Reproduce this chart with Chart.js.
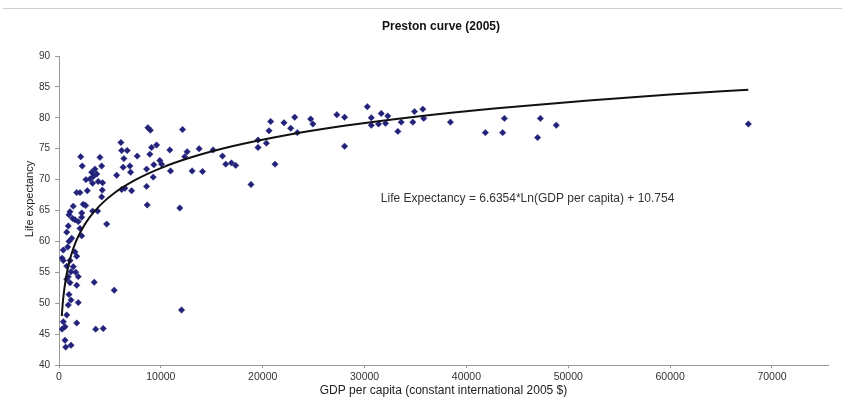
<!DOCTYPE html>
<html>
<head>
<meta charset="utf-8">
<title>Preston curve (2005)</title>
<script src="https://cdn.jsdelivr.net/npm/chart.js@4/dist/chart.umd.min.js"></script>
<style>
  html, body { margin: 0; padding: 0; background: #fff; }
  #wrap { width: 842px; height: 398px; position: relative; }
</style>
</head>
<body>
<div id="wrap"><canvas id="myChart" width="842" height="398"></canvas></div>
<script>
// GDP per capita (constant international 2005 $)
const gdp = [
  6080, 6150, 6700, 6370, 7680, 8920, 9090, 9580, 10880,
  2130, 4020, 2280, 4190, 3530, 3210, 3700, 3360, 3040, 2650,
  3850, 3300, 4280, 4250, 5660, 6300, 6960, 7030, 6470, 7130,
  6150, 8600, 9310, 9250, 9900, 10070, 10950, 8600, 8660, 11860,
  1740, 2060, 2780, 4190, 1400, 2380, 2620, 3300, 3790, 1080,
  980, 2230, 2230, 1570, 1890, 1340, 910, 4680, 2060, 1250, 760, 2230,
  12130, 12580, 12350, 13760, 15130, 13070, 14090, 16050, 16370, 16930,
  17350, 18850, 19540, 19540, 20360, 21210, 20620, 20780, 22090, 22750,
  23140, 23400, 24710, 24930, 27280, 28040, 28040, 30270, 30660, 30660,
  31370, 31640, 32280, 32060, 33270, 33600, 34740, 34900, 35720, 35810,
  38430, 41860, 43560, 43730, 47260, 46990, 48820, 67680,
  8730, 8970,
  980, 850, 1570, 1740, 300, 420, 1080, 760, 1400, 1180, 1640, 910,
  1890, 760, 1080, 1740, 3460, 5420, 980, 1180, 1890, 760, 420, 1740,
  300, 590, 3600, 4340, 590, 1180, 660, 12030, 910, 420
];
// Life expectancy (years), same order
const lifeExp = [
  76.0, 74.7, 74.7, 73.4, 73.8, 74.1, 75.2, 75.6, 74.8,
  73.7, 73.6, 72.2, 72.2, 71.7, 71.2, 70.9, 70.5, 70.1, 70.0,
  69.7, 69.4, 69.5, 68.3, 70.7, 72.0, 72.2, 71.2, 68.6, 68.2,
  68.4, 71.7, 72.4, 70.4, 73.1, 72.5, 71.4, 68.9, 65.9, 65.4,
  67.9, 67.9, 68.2, 67.2, 65.7, 66.0, 65.8, 64.9, 64.9, 64.8,
  64.3, 64.6, 63.9, 63.5, 63.2, 63.7, 62.5, 62.8, 62.1, 60.5, 61.5, 60.9,
  78.1, 74.5, 73.7, 75.0, 74.8, 71.4, 71.3, 73.8, 72.5, 72.7,
  72.3, 69.2, 76.4, 75.2, 75.9, 72.5, 77.9, 79.4, 79.2, 78.3,
  80.1, 77.6, 79.8, 79.0, 80.5, 80.1, 75.4, 81.8, 80.0, 78.8,
  79.0, 80.7, 80.3, 79.1, 77.8, 79.3, 79.3, 81.0, 81.4, 79.9,
  79.3, 77.6, 77.6, 79.9, 79.9, 76.8, 78.8, 79.0,
  78.4, 78.0,
  60.0, 59.1, 58.3, 57.6, 57.3, 56.9, 56.9, 56.0, 55.9, 55.1, 55.0, 54.3,
  54.3, 53.9, 53.3, 52.9, 53.4, 52.1, 51.4, 50.5, 50.1, 48.1, 47.0, 46.8,
  45.8, 46.2, 45.8, 45.9, 44.0, 43.2, 42.9, 48.9, 49.7, 58.6
];

// logarithmic trendline as printed on the chart
const trendA = 6.6354;
const trendB = 10.754;
const trendX = [270, 350, 450, 600, 800, 1000, 1300, 1700, 2200, 3000, 4000, 5500,
  7500, 10000, 13000, 17000, 22000, 28000, 35000, 43000, 52000, 60000, 67680];

const xTicks = [0, 10000, 20000, 30000, 40000, 50000, 60000, 70000];
const yTicks = [40, 45, 50, 55, 60, 65, 70, 75, 80, 85, 90];
const equationText = 'Life Expectancy = 6.6354*Ln(GDP per capita) + 10.754';

const points = gdp.map((g, i) => ({ x: g, y: lifeExp[i] }));
const trend = trendX.map(g => ({ x: g, y: trendA * Math.log(g) + trendB }));

const FONT = "'Liberation Sans', Arial, sans-serif";

const decor = {
  id: 'decor',
  afterDraw(chart) {
    const ctx = chart.ctx;
    ctx.save();
    // thin rule at the very top of the picture
    ctx.strokeStyle = '#cfcfcf';
    ctx.lineWidth = 1;
    ctx.beginPath();
    ctx.moveTo(3, 8.5);
    ctx.lineTo(842, 8.5);
    ctx.stroke();

    ctx.fillStyle = '#111';
    ctx.font = 'bold 12px ' + FONT;
    ctx.textAlign = 'center';
    ctx.textBaseline = 'middle';
    ctx.fillText('Preston curve (2005)', 441, 27);

    // y axis title
    ctx.save();
    ctx.translate(30, 199);
    ctx.rotate(-Math.PI / 2);
    ctx.font = '11px ' + FONT;
    ctx.fillStyle = '#222';
    ctx.fillText('Life expectancy', 0, 0);
    ctx.restore();

    const xs = chart.scales.x;
    const ys = chart.scales.y;
    ctx.font = '12px ' + FONT;
    ctx.fillStyle = '#333';
    ctx.textAlign = 'left';
    ctx.fillText(equationText, xs.getPixelForValue(31600), ys.getPixelForValue(66.9));
    ctx.restore();
  }
};

const ctx = document.getElementById('myChart').getContext('2d');
const myChart = new Chart(ctx, {
  type: 'scatter',
  data: {
    datasets: [{
      type: 'line',
      label: 'Trend',
      data: trend,
      borderColor: '#111',
      borderWidth: 2,
      pointRadius: 0,
      fill: false,
      cubicInterpolationMode: 'monotone',
      order: 0
    }, {
      label: 'Countries',
      data: points,
      pointStyle: 'rectRot',
      pointRadius: 3.2,
      backgroundColor: '#22227a',
      borderColor: '#22227a',
      borderWidth: 0.5,
      order: 1
    }]
  },
  options: {
    responsive: false,
    animation: false,
    layout: { padding: { top: 56, right: 14, left: 0, bottom: 0 } },
    plugins: {
      legend: { display: false },
      tooltip: { enabled: false }
    },
    scales: {
      x: {
        type: 'linear',
        min: 0,
        max: 75500,
        afterBuildTicks: scale => { scale.ticks = xTicks.map(v => ({ value: v })); },
        afterFit: scale => { scale.height = 33; },
        grid: { drawOnChartArea: false, drawTicks: true, tickLength: 3, color: '#999' },
        border: { color: '#999', width: 1 },
        ticks: {
          color: '#333',
          font: { family: FONT, size: 10.5 },
          padding: 3,
          maxRotation: 0,
          callback: v => String(v)
        },
        title: {
          display: true,
          text: 'GDP per capita (constant international 2005 $)',
          color: '#222',
          font: { family: FONT, size: 12 },
          padding: { top: 0, bottom: 0 }
        }
      },
      y: {
        type: 'linear',
        min: 40,
        max: 90,
        afterBuildTicks: scale => { scale.ticks = yTicks.map(v => ({ value: v })); },
        afterFit: scale => { scale.width = 59; },
        grid: { drawOnChartArea: false, drawTicks: true, tickLength: 4, color: '#999' },
        border: { color: '#999', width: 1 },
        ticks: { color: '#333', font: { family: FONT, size: 10 }, padding: 5 }
      }
    }
  },
  plugins: [decor]
});
</script>
</body>
</html>
